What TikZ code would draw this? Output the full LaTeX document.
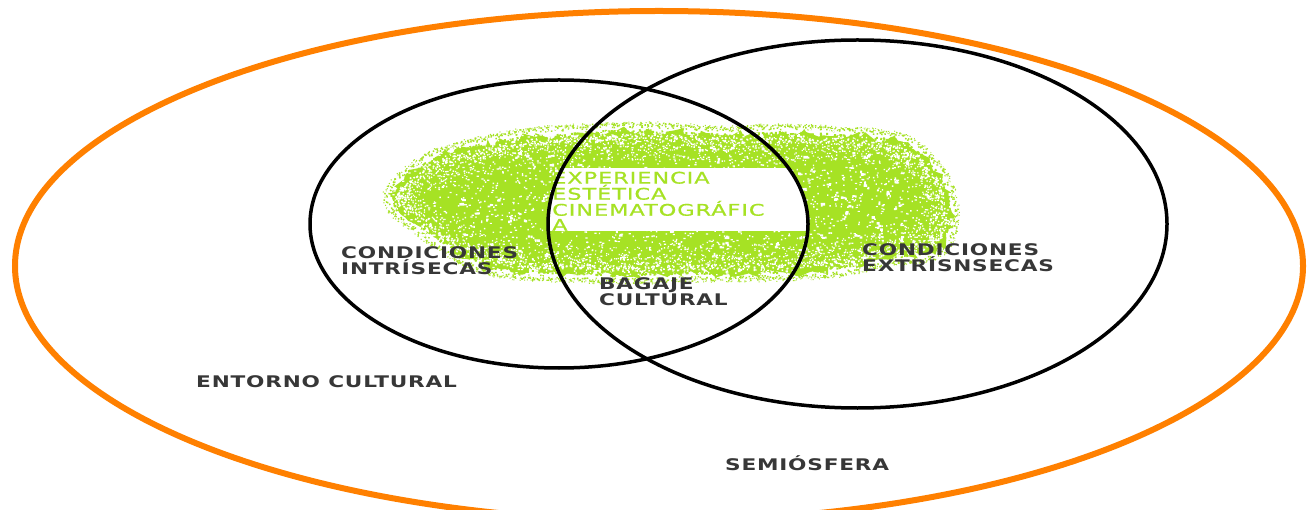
\documentclass[tikz,border=0pt]{standalone}
\usepackage{fontspec}
\usetikzlibrary{decorations.pathmorphing,decorations.markings}
\newfontfamily\labelfont[FakeStretch=1.35,LetterSpace=5]{DejaVu Sans}
\newfontfamily\expfont[FakeStretch=1.4,LetterSpace=6,FakeBold=0.8]{DejaVu Sans}
\definecolor{orbit}{RGB}{255,128,0}
\definecolor{lime}{RGB}{166,226,36}
\definecolor{ink}{RGB}{55,55,55}
\tikzset{
  lbl/.style={font=\labelfont\bfseries\fontsize{16}{15}\selectfont, text=ink, inner sep=0pt, align=left},
  exptext/.style={font=\expfont\fontsize{16}{15}\selectfont, text=lime, inner sep=0pt, align=left},
  ring/.style={draw=black, line width=3.5pt},
  outer/.style={draw=orbit, line width=6pt}
}
\begin{document}
\begin{tikzpicture}[x=1pt,y=-1pt]
\useasboundingbox (0,0) rectangle (1308,510);
\fill[white] (0,0) rectangle (1308,510);

% sprayed green patch: solid core, speckled surface, frayed rim
\pgfmathsetseed{12}
\def\patch{plot[smooth cycle] coordinates {(392,196) (404,180) (432,160) (470,148) (520,138) (580,133)
  (650,131) (720,135) (780,133) (850,136) (898,141) (920,154) (942,180) (950,210) (946,238)
  (930,252) (880,259) (842,268) (780,272) (700,273) (620,275) (540,272) (500,269) (470,259)
  (444,244) (422,228) (398,210)}}
\fill[lime, decorate, decoration={random steps, segment length=6pt, amplitude=5pt}] \patch;
\path[decorate, decoration={markings, mark=between positions 0 and 1 step 1.5pt with {
    \fill[lime] ({3*rand},{-2+5*rnd}) rectangle ++(2,2)
                ({3*rand},{-4-5*rnd}) rectangle ++(1.5,1.5)
                ({3*rand},{-6-4*rnd}) rectangle ++(1,1);
    \fill[white] ({3*rand},{2+6*rnd}) rectangle ++(1.6,1.6)
                 ({3*rand},{4+12*rnd}) rectangle ++(1.3,1.3)
                 ({3*rand},{8+20*rnd}) rectangle ++(1.2,1.2);}}] \patch;
% irregular holes, each a small cluster of pixels
\fill[white] foreach \i in {1,...,160} {
  ({400+550*rnd},{135+140*rnd}) rectangle ++({1.5+2*rnd},{1.5+1.5*rnd})
  ++({-2+3*rand},{-1+2*rand}) rectangle ++({1.5+2*rnd},{1.2+1.5*rnd})
  ++({-2+3*rand},{-1+2*rand}) rectangle ++({1+2*rnd},{1+1.5*rnd}) };
\fill[white] foreach \i in {1,...,1700} {
  ({386+572*rnd},{126+154*rnd}) rectangle ++(1.4,1.4) };
\fill[white] foreach \i in {1,...,800} {
  ({386+572*rnd},{126+154*rnd}) rectangle ++(2.2,1.2) };

% blank band in the overlap
\begin{scope}
  \clip (559,224) ellipse[x radius=249, y radius=144];
  \clip (857.5,224) ellipse[x radius=309.5, y radius=184];
  \fill[white] (520,168) rectangle (830,231);
  \node[exptext, anchor=north west] (exper) at (552,171.5)
    {EXPERIENCIA\\ESTÉTICA\\CINEMATOGRÁFIC\\A};
\end{scope}

% circles
\draw[outer] (659,266) ellipse[x radius=644, y radius=255];
\draw[ring] (559,224) ellipse[x radius=249, y radius=144];
\draw[ring] (857.5,224) ellipse[x radius=309.5, y radius=184];

% labels
\node[lbl, anchor=north west] (intr) at (341,246) {CONDICIONES\\INTRÍSECAS};
\node[lbl, anchor=north west] (extr) at (862,243) {CONDICIONES\\EXTRÍSNSECAS};
\node[lbl, anchor=north west] (bagaje) at (599,277) {BAGAJE\\CULTURAL};
\node[lbl, anchor=base west] (entorno) at (196,387) {ENTORNO CULTURAL};
\node[lbl, anchor=base west] (semio) at (725,470) {SEMIÓSFERA};
\end{tikzpicture}
\end{document}
